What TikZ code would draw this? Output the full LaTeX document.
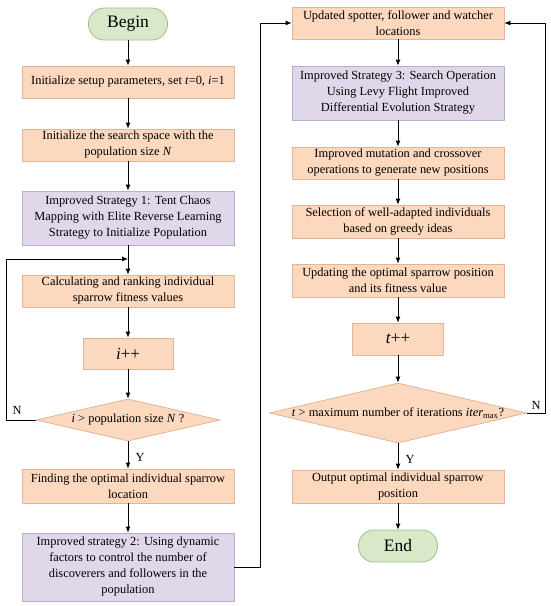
\documentclass[tikz,border=0pt]{standalone}
\usepackage{fontspec}
\setmainfont{Liberation Serif}
\usetikzlibrary{arrows.meta,shapes.geometric}
\definecolor{boxfill}{RGB}{252,216,190}
\definecolor{boxline}{RGB}{228,180,150}
\definecolor{stratfill}{RGB}{224,216,234}
\definecolor{stratline}{RGB}{184,174,204}
\definecolor{termfill}{RGB}{216,232,200}
\definecolor{termline}{RGB}{160,188,140}
\tikzset{
  proc/.style={draw=boxline,fill=boxfill,line width=0.8pt,minimum width=212pt,minimum height=32pt,
    align=center,inner sep=1pt,font=\fontsize{12.4}{16}\selectfont},
  strat/.style={proc,draw=stratline,fill=stratfill},
  counter/.style={proc,minimum width=90pt,font=\fontsize{17}{20}\selectfont},
  term/.style={draw=termline,fill=termfill,line width=0.8pt,rounded corners=15.5pt,minimum width=79pt,
    minimum height=32pt,font=\fontsize{17.5}{20}\selectfont},
  decision/.style={diamond,draw=boxline,fill=boxfill,line width=0.8pt,inner sep=0pt},
  arr/.style={-{Latex[length=6pt,width=5pt]},line width=0.8pt},
  yn/.style={font=\fontsize{12.4}{16}\selectfont}
}
\begin{document}
\begin{tikzpicture}[x=1pt,y=-1pt]
  \useasboundingbox (0,0) rectangle (550,606);
  % left column
  \node[term] (begin) at (128,24) {Begin};
  \node[proc] (init) at (128,82) {Initialize setup parameters, set \textit{t}=0, \textit{i}=1};
  \node[proc] (space) at (128,145) {Initialize the search space with the\\population size \textit{N}};
  \node[strat,minimum height=54pt] (strat1) at (128,218) {Improved Strategy 1: Tent Chaos\\Mapping with Elite Reverse Learning\\Strategy to Initialize Population};
  \node[proc] (fitness) at (128,291) {Calculating and ranking individual\\sparrow fitness values};
  \node[counter,minimum height=31pt] (inci) at (128,353.5) {\textit{i}++};
  \node[decision,minimum width=184pt,minimum height=42pt,label={[yn]center:{\textit{i} > population size \textit{N} ?}}] (cond1) at (128,420) {};
  \node[proc,minimum height=34pt] (best) at (128,486) {Finding the optimal individual sparrow\\location};
  \node[strat,minimum height=68pt] (strat2) at (128,567) {Improved strategy 2: Using dynamic\\factors to control the number of\\discoverers and followers in the\\population};
  % right column
  \node[proc] (update) at (398,23) {Updated spotter, follower and watcher\\locations};
  \node[strat,minimum height=54pt] (strat3) at (398,93) {Improved Strategy 3: Search Operation\\Using Levy Flight Improved\\Differential Evolution Strategy};
  \node[proc] (mutate) at (398,163) {Improved mutation and crossover\\operations to generate new positions};
  \node[proc,minimum height=33pt] (select) at (398,221.5) {Selection of well-adapted individuals\\based on greedy ideas};
  \node[proc,minimum height=33pt] (optpos) at (398,280.5) {Updating the optimal sparrow position\\and its fitness value};
  \node[counter,minimum width=91pt] (inct) at (398,339) {\textit{t}++};
  \node[decision,minimum width=257pt,minimum height=60pt,label={[yn]center:{\textit{t} > maximum number of iterations \textit{iter}\textsubscript{max}?}}] (cond2) at (398,413) {};
  \node[proc,minimum height=33pt] (output) at (398,486.5) {Output optimal individual sparrow\\position};
  \node[term] (end) at (398,546) {End};
  \coordinate (join) at (128,259);

  \draw[arr] (begin) -- (init);
  \draw[arr] (init) -- (space);
  \draw[arr] (space) -- (strat1);
  \draw[arr] (strat1) -- (fitness);
  \draw[arr] (fitness) -- (inci);
  \draw[arr] (inci) -- (cond1);
  \draw[arr] (cond1) -- node[yn,right,pos=0.6,xshift=4pt] (y1) {Y} (best);
  \draw[arr] (best) -- (strat2);
  \draw[arr] (cond1.west) -- ++(-29,0) |- (join);
  \node[yn] (n1) at (17,410) {N};
  \draw[arr] (strat2.east) -- ++(26,0) |- (update.west);

  \draw[arr] (update) -- (strat3);
  \draw[arr] (strat3) -- (mutate);
  \draw[arr] (mutate) -- (select);
  \draw[arr] (select) -- (optpos);
  \draw[arr] (optpos) -- (inct);
  \draw[arr] (inct) -- (cond2);
  \draw[arr] (cond2) -- node[yn,right,pos=0.6,xshift=4pt] (y2) {Y} (output);
  \draw[arr] (output) -- (end);
  \draw[arr] (cond2.east) -- ++(18,0) |- (update.east);
  \node[yn] (n2) at (536,405) {N};
\end{tikzpicture}
\end{document}
